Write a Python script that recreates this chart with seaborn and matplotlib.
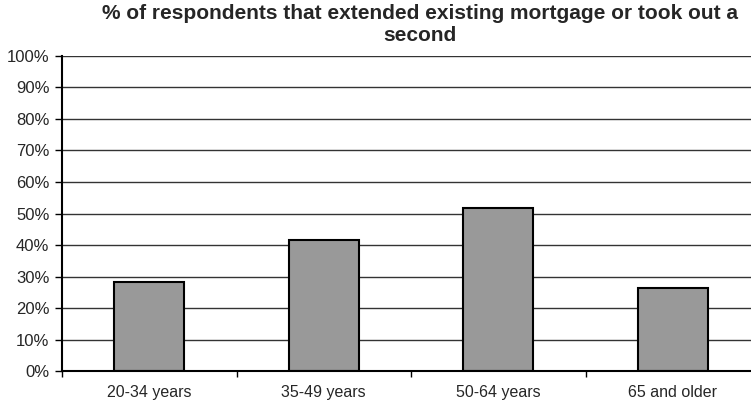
import matplotlib
matplotlib.use("Agg")
import matplotlib.pyplot as plt
import seaborn as sns
import pandas as pd
import numpy as np
from matplotlib.ticker import FixedLocator, FuncFormatter

categories = ["20-34 years", "35-49 years", "50-64 years", "65 and older"]
values = [28.2, 41.5, 51.9, 26.4]
title = "% of respondents that extended existing mortgage or took out a\nsecond"

sns.set_style("white")
plt.rcParams['font.family'] = ['Liberation Sans', 'DejaVu Sans']

df = pd.DataFrame({"cat": categories, "val": values})

fig = plt.figure(figsize=(7.51, 4.04), dpi=100)
ax = fig.add_axes([62/751, 1-371.3/404, (760-62)/751, (371.3-55.7)/404])

for y in range(10, 101, 10):
    ax.axhline(y, color="#333333", lw=1.0, zorder=0)

sns.barplot(data=df, x="cat", y="val", color="#999999", width=0.4,
            edgecolor="black", linewidth=1.5, saturation=1, ax=ax, zorder=2)

ax.set_ylim(0, 100)
ax.set_xlim(-0.5, len(categories) - 0.5)
ax.set_yticks(range(0, 101, 10))
ax.yaxis.set_major_formatter(FuncFormatter(lambda v, p: f"{int(v)}%"))
ax.xaxis.set_minor_locator(FixedLocator(np.arange(-0.5, len(categories), 1.0)))
ax.tick_params(axis="x", which="major", length=0, labelsize=11.5, pad=10)
ax.tick_params(axis="x", which="minor", length=4, width=1, direction="out", color="black", bottom=True)
ax.tick_params(axis="y", length=5, width=1, direction="out", color="black", left=True, labelsize=12, pad=4)
ax.set_xlabel("")
ax.set_ylabel("")
for s in ["top", "right"]:
    ax.spines[s].set_visible(False)
for s in ["left", "bottom"]:
    ax.spines[s].set_color("black")
    ax.spines[s].set_linewidth(1.5)

fig.text(420 / 751, 1 - 4/404, title, ha="center", va="top",
         fontsize=15, fontweight="bold", linespacing=1.2)

fig.savefig("out.png", dpi=100)
